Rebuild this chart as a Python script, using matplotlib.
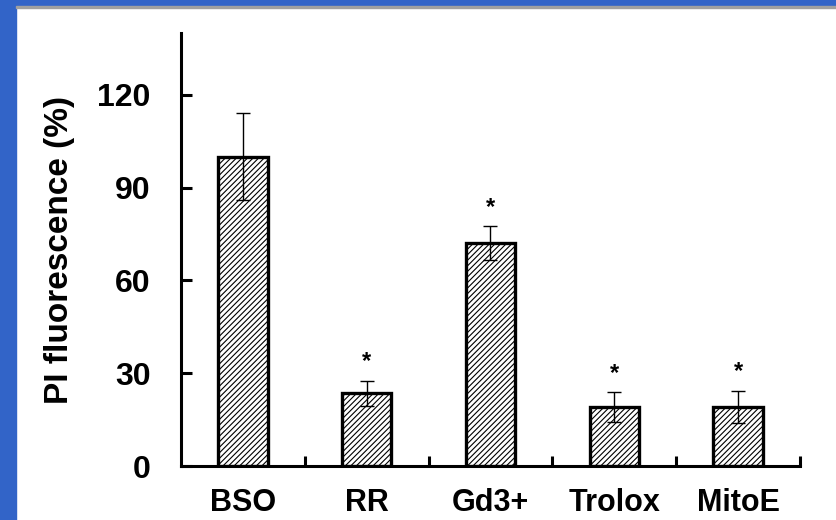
import matplotlib.pyplot as plt
from matplotlib.patches import Rectangle

plt.rcParams['font.family'] = ['Liberation Sans', 'DejaVu Sans']
plt.rcParams['font.weight'] = 'bold'
plt.rcParams['hatch.linewidth'] = 0.8

# data
groups = ["BSO", "RR", "Gd3+", "Trolox", "MitoE"]
pi_mean = [100, 23.5, 72, 19, 19]
pi_err = [14, 4, 5.5, 4.8, 5.2]
marks = ["", "*", "*", "*", "*"]

fig = plt.figure(figsize=(8.37, 5.2), dpi=100)

# blue frame of the slide
blue = "#3264c8"
fig.patches.append(Rectangle((0, 0), 16 / 837, 1, transform=fig.transFigure,
                             color=blue, zorder=0))
fig.patches.append(Rectangle((0, 1 - 6 / 520), 1, 6 / 520, transform=fig.transFigure,
                             color=blue, zorder=0))
fig.patches.append(Rectangle((16 / 837, 1 - 8 / 520), 1, 2 / 520, transform=fig.transFigure,
                             color="#a0a0a0", zorder=0))

ax = fig.add_axes([181 / 837, 1 - 466 / 520, 619 / 837, 433 / 520])
x = [i + 0.5 for i in range(len(groups))]
ax.bar(x, pi_mean, width=0.4, color="white", edgecolor="black",
       linewidth=2.4, hatch="//////", zorder=2)
ax.errorbar(x, pi_mean, yerr=pi_err, fmt="none", ecolor="black",
            elinewidth=1.0, capsize=5, capthick=1.0, zorder=3)
for xi, m, e, s in zip(x, pi_mean, pi_err, marks):
    if s:
        ax.text(xi, m + e + 2.5, s, ha="center", va="bottom", fontsize=17)

ax.set_xlim(0, len(groups))
ax.set_ylim(0, 140)
ax.set_yticks([0, 30, 60, 90, 120])
ax.set_xticks(x)
ax.set_xticklabels(groups, fontsize=22, fontweight="bold")
ax.set_xticks(range(1, len(groups) + 1), minor=True)
ax.tick_params(axis="x", which="major", length=0, pad=16)
ax.tick_params(axis="x", which="minor", direction="in", length=7, width=2.2)
ax.tick_params(axis="y", direction="in", length=8, width=2.2, pad=22, labelsize=23)
for lab in ax.get_yticklabels():
    lab.set_fontweight("bold")
ax.set_ylabel("PI fluorescence (%)", fontsize=24, fontweight="bold", labelpad=16)

for side in ["top", "right"]:
    ax.spines[side].set_visible(False)
for side in ["left", "bottom"]:
    ax.spines[side].set_linewidth(2.2)

fig.savefig("out.png", dpi=100)
